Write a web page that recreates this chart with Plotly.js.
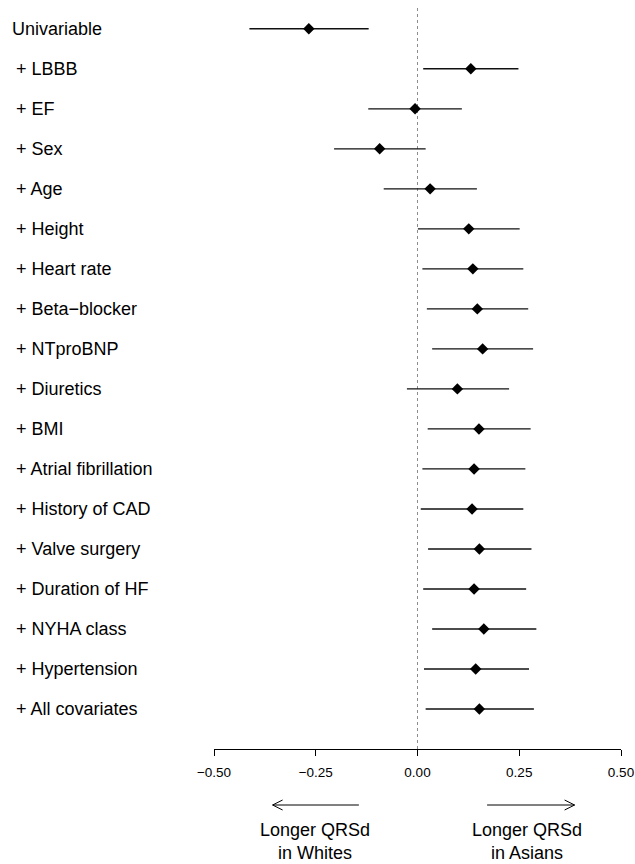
<!DOCTYPE html>
<html>
<head>
<meta charset="utf-8">
<script src="https://cdn.plot.ly/plotly-3.0.1.min.js"></script>
<style>html,body{margin:0;padding:0;background:#fff;}#chart{width:635px;height:864px;}</style>
</head>
<body>
<div id="chart"></div>
<script>
// ---- data ----
const labels = ["Univariable", "+ LBBB", "+ EF", "+ Sex", "+ Age", "+ Height", "+ Heart rate",
  "+ Beta\u2212blocker", "+ NTproBNP", "+ Diuretics", "+ BMI", "+ Atrial fibrillation",
  "+ History of CAD", "+ Valve surgery", "+ Duration of HF", "+ NYHA class",
  "+ Hypertension", "+ All covariates"];
const estimate = [-0.267, 0.131, -0.006, -0.093, 0.031, 0.126, 0.136, 0.147, 0.160, 0.098,
  0.151, 0.139, 0.134, 0.152, 0.139, 0.163, 0.143, 0.152];
const lower = [-0.413, 0.014, -0.121, -0.205, -0.083, 0.001, 0.012, 0.023, 0.036, -0.026,
  0.025, 0.012, 0.008, 0.026, 0.014, 0.036, 0.016, 0.020];
const upper = [-0.120, 0.248, 0.109, 0.020, 0.146, 0.251, 0.260, 0.272, 0.284, 0.225,
  0.278, 0.265, 0.260, 0.280, 0.267, 0.292, 0.274, 0.286];
const tickVals = [-0.5, -0.25, 0, 0.25, 0.5];
const tickText = ["\u22120.50", "\u22120.25", "0.00", "0.25", "0.50"];
const directionText = ["Longer QRSd<br>in Whites", "Longer QRSd<br>in Asians"];
const arrowTail = [-0.144, 0.171];
const arrowTip = [-0.356, 0.386];
const textCenter = [-0.253, 0.270];

// ---- layout geometry ----
const W = 635, H = 864;
const mL = 214, mR = 14, mT = 8, mB = 115;
const plotW = W - mL - mR, plotH = H - mT - mB;
const font = '"Liberation Sans", Arial, Helvetica, sans-serif';
const pxToPaperX = px => (px - mL) / plotW;
const pxToPaperY = py => (H - mB - py) / plotH;

const rows = labels.map((_, i) => i);

const trace = {
  type: 'scatter',
  mode: 'markers',
  x: estimate,
  y: rows,
  marker: {symbol: 'diamond', size: 8.8, color: '#000', line: {width: 0}},
  error_x: {
    type: 'data', symmetric: false,
    array: upper.map((u, i) => u - estimate[i]),
    arrayminus: lower.map((l, i) => estimate[i] - l),
    width: 0, thickness: 1.4, color: '#111'
  },
  hoverinfo: 'skip',
  showlegend: false
};

const annotations = labels.map((lab, i) => ({
  xref: 'paper', yref: 'y',
  x: pxToPaperX(lab.startsWith('+') ? 14 : 10), y: i,
  xanchor: 'left', yanchor: 'middle',
  text: lab, showarrow: false,
  font: {family: font, size: 18, color: '#000'}
}));
directionText.forEach((t, k) => annotations.push({
  xref: 'x', yref: 'paper', x: textCenter[k], y: pxToPaperY(841),
  xanchor: 'center', yanchor: 'middle', text: t, showarrow: false,
  font: {family: font, size: 18, color: '#000'}
}));

const arrowY = pxToPaperY(805);
const headDx = 10 / plotW;           // in x data units (range width 1)
const headDy = 5 / plotH;
const shapes = [{
  type: 'line', xref: 'x', yref: 'paper', x0: 0, x1: 0, y0: 0, y1: 1,
  line: {color: '#8c8c8c', width: 1, dash: 'dot'}, layer: 'below'
}];
arrowTail.forEach((tail, k) => {
  const tip = arrowTip[k];
  const dir = tip < tail ? 1 : -1;
  const hx = tip + dir * headDx;
  shapes.push({
    type: 'path', xref: 'x', yref: 'paper',
    path: `M${tail},${arrowY} L${tip},${arrowY} M${hx},${arrowY + headDy} L${tip},${arrowY} L${hx},${arrowY - headDy}`,
    line: {color: '#000', width: 1}
  });
});

const layout = {
  width: W, height: H,
  margin: {l: mL, r: mR, t: mT, b: mB, pad: 0},
  paper_bgcolor: '#fff', plot_bgcolor: '#fff',
  showlegend: false,
  xaxis: {
    range: [-0.5, 0.5], showgrid: false, zeroline: false,
    showline: true, linecolor: '#000', linewidth: 1,
    ticks: 'outside', ticklen: 6, tickwidth: 1, tickcolor: '#000',
    tickvals: tickVals, ticktext: tickText, ticklabelstandoff: 5,
    tickfont: {family: font, size: 13.5, color: '#000'}
  },
  yaxis: {
    range: [labels.length, -0.52], showgrid: false, zeroline: false,
    showline: false, showticklabels: false, ticks: ''
  },
  annotations: annotations,
  shapes: shapes
};

Plotly.newPlot('chart', [trace], layout, {staticPlot: true, displayModeBar: false});
</script>
</body>
</html>
